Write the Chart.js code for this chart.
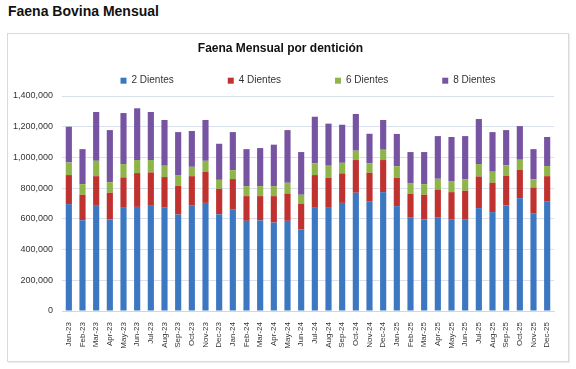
<!DOCTYPE html>
<html>
<head>
<meta charset="utf-8">
<script src="https://cdn.jsdelivr.net/npm/chart.js@4/dist/chart.umd.min.js"></script>
<style>
  html, body { margin: 0; padding: 0; background: #ffffff; }
  body { width: 576px; height: 369px; position: relative; overflow: hidden; font-family: "Liberation Sans", Arial, sans-serif; }
  #title { position: absolute; left: 8px; top: 3px; font-weight: bold; font-size: 14px; color: #111; }
  #box { position: absolute; left: 7px; top: 33px; width: 562px; height: 329px; box-sizing: border-box; border: 1px solid #d9d9d9; box-shadow: 1px 1px 1px #eeeeee; }
  #wrap { position: absolute; left: 7px; top: 33px; width: 562px; height: 329px; }
</style>
</head>
<body>
<div id="title">Faena Bovina Mensual</div>
<div id="box"></div>
<div id="wrap"><canvas id="c" width="562" height="329"></canvas></div>
<script>
const categories = ["Jan-23","Feb-23","Mar-23","Apr-23","May-23","Jun-23","Jul-23","Aug-23","Sep-23","Oct-23","Nov-23","Dec-23",
  "Jan-24","Feb-24","Mar-24","Apr-24","May-24","Jun-24","Jul-24","Aug-24","Sep-24","Oct-24","Nov-24","Dec-24",
  "Jan-25","Feb-25","Mar-25","Apr-25","May-25","Jun-25","Jul-25","Aug-25","Sep-25","Oct-25","Nov-25","Dec-25"];
const seriesNames = ["2 Dientes","4 Dientes","6 Dientes","8 Dientes"];
const dientes2 = [696000,591000,685000,596000,672000,678000,685000,676000,628000,689000,704000,630000,
  663000,587000,590000,576000,587000,530000,672000,672000,704000,770000,715000,774000,
  683000,611000,596000,611000,598000,598000,670000,644000,687000,735000,637000,715000];
const dientes4 = [189000,166000,193000,174000,198000,220000,217000,196000,187000,189000,203000,166000,
  196000,161000,158000,172000,178000,168000,213000,195000,192000,213000,185000,209000,
  184000,152000,161000,180000,176000,185000,206000,191000,193000,185000,167000,163000];
const dientes6 = [82000,69000,100000,69000,87000,85000,81000,74000,70000,61000,71000,58000,
  58000,65000,65000,65000,70000,59000,76000,79000,69000,61000,61000,67000,
  76000,70000,69000,70000,72000,74000,81000,72000,68000,65000,53000,66000];
const dientes8 = [233000,228000,318000,339000,332000,337000,313000,298000,280000,233000,266000,235000,
  248000,241000,248000,270000,343000,278000,304000,274000,248000,239000,193000,194000,
  210000,202000,209000,278000,287000,282000,293000,258000,230000,219000,197000,189000];
const yTickMax = 1400000;
const yTickStep = 200000;
const chartTitle = "Faena Mensual por dentición";

const colors = ["#3c77c2", "#c0322f", "#8fb54a", "#7754a2"];
const seriesData = [dientes2, dientes4, dientes6, dientes8];

const LEGEND_PAD = 54;
const LEGEND_ROW_CENTER = 47.7;
const LEGEND_HEIGHT = 36.6;

const legendTweak = {
  id: 'legendTweak',
  afterInit(chart) {
    const lg = chart.legend;
    const origFit = lg.fit.bind(lg);
    lg.fit = function () { origFit(); this.height = LEGEND_HEIGHT; };
    const origDraw = lg.draw.bind(lg);
    lg.draw = function (area) {
      const t = this.top, l = this.left, r = this.right;
      const shift = t + LEGEND_PAD + 5 - LEGEND_ROW_CENTER;
      this.top = t - shift;
      this.left = chart.chartArea.left;
      this.right = chart.chartArea.right;
      origDraw(area);
      this.top = t; this.left = l; this.right = r;
    };
  }
};

new Chart(document.getElementById('c'), {
  type: 'bar',
  data: {
    labels: categories,
    datasets: seriesNames.map((n, i) => ({
      label: n,
      data: seriesData[i],
      backgroundColor: colors[i],
      borderWidth: 0,
      barPercentage: 0.45,
      categoryPercentage: 1.0
    }))
  },
  options: {
    responsive: false,
    animation: false,
    devicePixelRatio: 1,
    layout: { padding: { left: 0, right: 15, top: 0, bottom: 0 } },
    plugins: {
      title: {
        display: true,
        text: chartTitle,
        color: '#111',
        font: { family: "'Liberation Sans', Arial, sans-serif", size: 12, weight: 'bold' },
        padding: { top: 8, bottom: 4 }
      },
      legend: {
        display: true,
        position: 'top',
        labels: {
          boxWidth: 6,
          boxHeight: 6,
          padding: LEGEND_PAD,
          color: '#333',
          font: { family: "'Liberation Sans', Arial, sans-serif", size: 10 }
        }
      },
      tooltip: { enabled: false }
    },
    scales: {
      x: {
        stacked: true,
        grid: { display: false },
        border: { display: true, color: '#d0d7e2' },
        ticks: {
          autoSkip: false,
          minRotation: 90,
          maxRotation: 90,
          padding: 3,
          color: '#333',
          font: { family: "'Liberation Sans', Arial, sans-serif", size: 8 }
        },
        afterFit(scale) { scale.height = 51; }
      },
      y: {
        stacked: true,
        min: 0,
        max: yTickMax,
        grid: { color: '#d9e1ec', drawTicks: false },
        border: { display: false },
        ticks: {
          stepSize: yTickStep,
          padding: 9,
          color: '#333',
          font: { family: "'Liberation Sans', Arial, sans-serif", size: 9 },
          callback: v => Number(v).toLocaleString('en-US')
        },
        afterFit(scale) { scale.width = 55; }
      }
    }
  },
  plugins: [legendTweak]
});
</script>
</body>
</html>
